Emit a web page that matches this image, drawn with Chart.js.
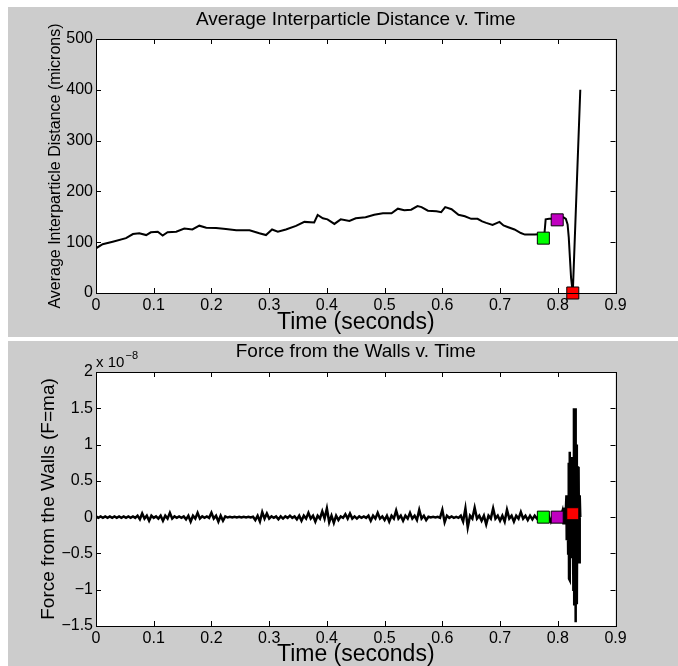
<!DOCTYPE html>
<html>
<head>
<meta charset="utf-8">
<script src="https://cdn.jsdelivr.net/npm/chart.js@4.4.1/dist/chart.umd.min.js"></script>
<style>
  html, body { margin: 0; padding: 0; background: #fff; }
  body { width: 678px; height: 666px; position: relative; overflow: hidden; }
  .panel { position: absolute; left: 8px; width: 670px; background: #cccccc; }
  #p1 { top: 7px; height: 330px; }
  #p2 { top: 341px; height: 325px; }
  canvas { display: block; }
</style>
</head>
<body>
<div class="panel" id="p1"><canvas id="distChart" width="670" height="330"></canvas></div>
<div class="panel" id="p2"><canvas id="forceChart" width="670" height="325"></canvas></div>
<script>
const FONT = "'Liberation Sans', Arial, Helvetica, sans-serif";

// tick values
const timeTicks = [0, 0.1, 0.2, 0.3, 0.4, 0.5, 0.6, 0.7, 0.8, 0.9];
const distTicks = [0, 100, 200, 300, 400, 500];
const forceTicks = [-1.5, -1, -0.5, 0, 0.5, 1, 1.5, 2]; // x 1e-8

// average interparticle distance (microns) v. time (s)
const distTime = [0, 0.0115, 0.029, 0.052, 0.064, 0.075, 0.087, 0.095, 0.107, 0.1155,
  0.124, 0.139, 0.153, 0.167, 0.179, 0.191, 0.208, 0.225, 0.243, 0.266,
  0.283, 0.2945, 0.305, 0.315, 0.329, 0.3465, 0.361, 0.378, 0.384, 0.393,
  0.401, 0.413, 0.424, 0.439, 0.45, 0.467, 0.482, 0.497, 0.512, 0.523,
  0.534, 0.546, 0.557, 0.564, 0.575, 0.59, 0.598, 0.605, 0.616, 0.628,
  0.639, 0.65, 0.661, 0.669, 0.676, 0.687, 0.699, 0.706, 0.713, 0.725,
  0.736, 0.743, 0.76, 0.775, 0.777, 0.779, 0.785, 0.799, 0.81, 0.814,
  0.817, 0.819, 0.821, 0.823, 0.826, 0.839];
const distMicrons = [88, 96, 101, 108, 116, 117.5, 114, 119.5, 120.7, 113,
  119.5, 120.7, 127, 125, 132.5, 128.5, 128, 126, 123.4, 123.4,
  117.5, 114, 125, 120.7, 125, 132, 140, 139, 153.5, 147,
  145, 136, 145, 141.7, 147, 149, 154, 157, 157, 166,
  163, 164, 171, 169, 162, 161, 159, 169, 165, 154,
  151, 146, 146, 141, 138, 134, 140, 133, 130, 125,
  118, 115, 115, 116, 118, 145, 146, 146, 149, 146,
  135, 110, 70, 30, 0, 400];

// coloured markers, same times on both panels
const markerTime = [0.775, 0.799, 0.826];
const markerDist = [108, 144, 0];
const markerForce = [0, 0, 0.047];
const markerColor = ['#00ff00', '#c000c0', '#ff0000'];

// force from the walls, x 1e-8, sampled every 4 ms up to 0.808 s
const forceStep = 0.004;
const forceQuiet = [
  0.01, -0.01, 0.01, -0.01, 0.01, -0.01, 0.01, -0.01, 0.01, -0.01,
  0.01, -0.01, 0.01, -0.01, 0.01, -0.01, 0.01, -0.01, 0.02, -0.03,
  0.05, -0.02, 0.02, -0.05, 0.02, -0.01, 0.01, -0.02, 0.02, -0.05,
  0.02, -0.02, 0.06, -0.02, 0.01, -0.01, 0.01, -0.01, 0.01, -0.03,
  0.02, -0.06, 0.02, -0.02, 0.06, -0.02, 0.01, -0.01, 0.01, -0.01,
  0.06, -0.02, 0.02, -0.06, 0.02, -0.05, 0.01, -0.005, 0.005, -0.005,
  0.005, -0.005, 0.005, -0.005, 0.005, -0.005, 0.005, -0.005, 0.005, -0.04,
  0.02, -0.06, 0.07, -0.02, 0.05, -0.02, 0.01, -0.01, 0.01, -0.03,
  0.01, -0.02, 0.01, -0.01, 0.02, -0.01, 0.01, -0.03, 0.02, -0.05,
  0.02, -0.02, 0.06, -0.02, 0.02, -0.06, 0.02, -0.02, 0.08, -0.02,
  0.12, -0.07, 0.02, -0.08, 0.02, -0.04, 0.01, -0.01, 0.04, -0.02,
  0.05, -0.02, 0.01, -0.02, 0.01, -0.01, 0.01, -0.01, 0.02, -0.05,
  0.02, -0.02, 0.06, -0.02, 0.01, -0.04, 0.02, -0.06, 0.02, -0.02,
  0.09, -0.02, 0.02, -0.05, 0.02, -0.02, 0.06, -0.02, 0.02, -0.04,
  0.1, -0.02, 0.02, -0.04, 0.005, -0.005, 0.005, -0.005, 0.005, -0.01,
  0.1, -0.07, 0.02, -0.01, 0.01, -0.01, 0.005, -0.01, 0.02, -0.06,
  0.12, -0.14, 0.02, -0.02, 0.13, -0.02, 0.02, -0.05, 0.02, -0.1,
  0.02, -0.02, 0.12, -0.02, 0.02, -0.05, 0.02, -0.06, 0.1, -0.02,
  0.02, -0.06, 0.02, -0.02, 0.07, -0.02, 0.02, -0.04, 0.02, -0.03,
  0.02, -0.02, 0.01, -0.01, 0.01, -0.01, 0.02, -0.06, 0.02, -0.02,
  0.02, -0.03, 0.08];
// the big shake at the end
const burstTime = [0.810, 0.812, 0.813, 0.815, 0.8155, 0.817, 0.818, 0.819, 0.8195, 0.8205,
  0.821, 0.822, 0.823, 0.824, 0.825, 0.826, 0.827, 0.828, 0.8285, 0.829,
  0.8295, 0.830, 0.8305, 0.831, 0.8315, 0.832, 0.833, 0.834, 0.835, 0.836,
  0.837, 0.838, 0.839];
const burstForce = [-0.1, 0.13, -0.1, 0.3, -0.32, 0.25, -0.5, 0.75, -0.85, 0.9,
  -0.87, 0.6, -0.55, 0.83, -0.3, 0.5, -1.0, 1.5, -1.2, 1.2,
  -1.1, 1.5, -1.45, 1.45, -1.3, 1.0, -1.2, 0.7, -0.6, 0.69,
  -0.62, 0.3, 0];

// white plot box, inward ticks on all four sides, titles
const matlabBox = {
  id: 'matlabBox',
  beforeDraw(chart) {
    const { ctx, chartArea: a } = chart;
    ctx.save();
    ctx.fillStyle = '#fff';
    ctx.fillRect(a.left, a.top, a.right - a.left, a.bottom - a.top);
    ctx.restore();
  },
  afterDatasetsDraw(chart) {
    const { ctx, chartArea: a, scales: { x, y } } = chart;
    const o = chart.options.plugins.matlabBox;
    ctx.save();
    ctx.strokeStyle = '#000';
    ctx.lineWidth = 1;
    ctx.beginPath();
    x.ticks.forEach(t => {
      const px = Math.round(x.getPixelForValue(t.value)) + 0.5;
      ctx.moveTo(px, a.bottom); ctx.lineTo(px, a.bottom - 5);
      ctx.moveTo(px, a.top); ctx.lineTo(px, a.top + 5);
    });
    y.ticks.forEach(t => {
      const py = Math.round(y.getPixelForValue(t.value)) + 0.5;
      ctx.moveTo(a.left, py); ctx.lineTo(a.left + 5, py);
      ctx.moveTo(a.right, py); ctx.lineTo(a.right - 5, py);
    });
    ctx.stroke();
    ctx.strokeRect(Math.round(a.left) + 0.5, Math.round(a.top) + 0.5,
      Math.round(a.right - a.left), Math.round(a.bottom - a.top));

    ctx.fillStyle = '#000';
    ctx.textAlign = 'center';
    ctx.textBaseline = 'middle';
    ctx.font = '19px ' + FONT;
    ctx.fillText(o.title, (a.left + a.right) / 2, o.titleY);
    if (o.exponent) {
      ctx.textAlign = 'left';
      ctx.font = '15px ' + FONT;
      ctx.fillText('x 10', a.left, a.top - 9);
      const w = ctx.measureText('x 10 ').width;
      ctx.font = '11px ' + FONT;
      ctx.fillText('\u22128', a.left + w - 3, a.top - 16);
    }
    ctx.restore();
  }
};

function fmt(v) {
  const s = String(Number(v.toFixed(2)));
  return s.replace('-', '\u2212');
}

function makeChart(id, cfg) {
  return new Chart(document.getElementById(id), {
    type: 'line',
    data: { datasets: cfg.datasets },
    options: {
      responsive: false,
      animation: false,
      layout: { padding: { top: cfg.top, right: 62.5, left: 0, bottom: 0 } },
      plugins: {
        legend: { display: false },
        tooltip: { enabled: false },
        matlabBox: { title: cfg.title, titleY: cfg.titleY, exponent: cfg.exponent }
      },
      scales: {
        x: {
          type: 'linear', min: 0, max: 0.9,
          afterBuildTicks: s => { s.ticks = timeTicks.map(v => ({ value: v })); },
          afterFit: s => { s.height = cfg.xHeight; },
          grid: { display: false, drawTicks: false },
          border: { display: false },
          ticks: { color: '#000', padding: 3, font: { family: FONT, size: 16 }, callback: v => fmt(v), maxRotation: 0 },
          title: { display: true, text: 'Time (seconds)', color: '#000',
            font: { family: FONT, size: 23, lineHeight: 1 }, padding: { top: 0, bottom: cfg.xTitlePad } }
        },
        y: {
          type: 'linear', min: cfg.yTicks[0], max: cfg.yTicks[cfg.yTicks.length - 1],
          afterBuildTicks: s => { s.ticks = cfg.yTicks.map(v => ({ value: v })); },
          afterFit: s => { s.width = 88; },
          grid: { display: false, drawTicks: false },
          border: { display: false },
          ticks: { color: '#000', padding: 3, font: { family: FONT, size: 16 }, callback: v => fmt(v) },
          title: { display: true, text: cfg.yTitle, color: '#000',
            font: { family: FONT, size: cfg.yTitleSize, lineHeight: 1 }, padding: { top: cfg.yTitlePad, bottom: 0 } }
        }
      }
    },
    plugins: [matlabBox]
  });
}

function markerSet(values) {
  return {
    type: 'scatter',
    order: 0,
    data: markerTime.map((t, i) => ({ x: t, y: values[i] })),
    pointStyle: 'rect',
    pointRadius: 8.5,
    backgroundColor: markerColor,
    borderColor: '#000',
    borderWidth: 1,
    showLine: false,
    clip: false
  };
}

makeChart('distChart', {
  top: 32, xHeight: 44, xTitlePad: 3,
  title: 'Average Interparticle Distance v. Time', titleY: 13,
  yTicks: distTicks, yTitle: 'Average Interparticle Distance (microns)', yTitleSize: 16, yTitlePad: 40,
  datasets: [
    {
      order: 1,
      data: distTime.map((t, i) => ({ x: t, y: distMicrons[i] })),
      borderColor: '#000', borderWidth: 2, pointRadius: 0, tension: 0
    },
    markerSet(markerDist)
  ]
});

const forcePoints = forceQuiet.map((v, i) => ({ x: i * forceStep, y: v }))
  .concat(burstTime.map((t, i) => ({ x: t, y: burstForce[i] })));

makeChart('forceChart', {
  top: 31, xHeight: 40, xTitlePad: 0,
  title: 'Force from the Walls v. Time', titleY: 11, exponent: true,
  yTicks: forceTicks, yTitle: 'Force from the Walls (F=ma)', yTitleSize: 19, yTitlePad: 31,
  datasets: [
    {
      order: 1,
      data: forcePoints,
      borderColor: '#000', borderWidth: 2.5, pointRadius: 0, tension: 0
    },
    markerSet(markerForce)
  ]
});
</script>
</body>
</html>
